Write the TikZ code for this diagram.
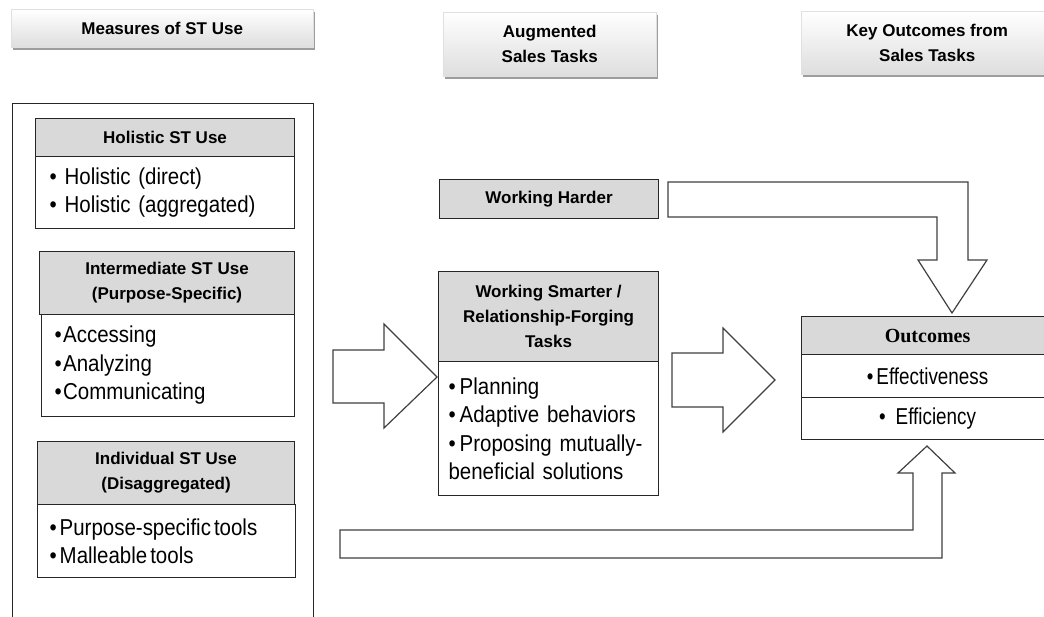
\documentclass[tikz,border=0pt]{standalone}
\usepackage{fontspec}
\setmainfont{Liberation Sans}
\newfontfamily\condfont[FakeStretch=0.89]{Liberation Sans}
\newfontfamily\ocondfont[FakeStretch=0.82]{Liberation Sans}
\newfontfamily\serifb{Liberation Serif}
\usetikzlibrary{shadows}
\tikzset{
  toph/.style={draw=black!12, top color=white, bottom color=black!13, anchor=north west,
    inner sep=0pt, align=center, font=\fontsize{17}{25}\selectfont\bfseries,
    drop shadow={shadow xshift=1.5pt, shadow yshift=-3pt, opacity=0.55, fill=black!70}},
  hdr/.style={draw=black!85, fill=black!15, line width=1.1pt, anchor=north west,
    inner sep=0pt, align=center, font=\fontsize{17}{25}\selectfont\bfseries},
  body/.style={draw=black!85, fill=white, line width=1.1pt, anchor=north west,
    inner ysep=0pt, align=left, font=\condfont\fontsize{23}{28.5}\selectfont},
  obody/.style={draw=black!85, fill=white, line width=1.1pt, anchor=north west,
    inner sep=0pt, align=center, font=\ocondfont\fontsize{23}{28}\selectfont},
  frame/.style={draw=black!85, line width=1.1pt, anchor=north west, inner sep=0pt},
  blk/.style={draw=black!75, fill=white, line width=1.2pt, line join=miter}
}
\begin{document}
\begin{tikzpicture}[x=1pt,y=-1pt]
\useasboundingbox (0,0) rectangle (1044,617);

% top headers
\node[toph, minimum width=302pt, minimum height=38pt] (mst) at (11,9) {Measures of ST Use};
\node[toph, minimum width=213pt, minimum height=64pt] (aug) at (443,12) {Augmented\\Sales Tasks};
\node[toph, minimum width=252pt, minimum height=63pt] (key) at (801,11) {Key Outcomes from\\Sales Tasks};

% left frame
\node[frame, minimum width=301pt, minimum height=530pt] (meas) at (12,103) {};

% holistic
\node[hdr, minimum width=259pt, minimum height=38pt] (hol) at (35,118) {Holistic ST Use};
\node[body, minimum width=259pt, minimum height=72pt, text width=231pt, inner xsep=14pt] (holb) at (35,156)
  {\textbullet\hspace{8pt}Holistic (direct)\\\textbullet\hspace{8pt}Holistic (aggregated)};

% intermediate
\node[hdr, minimum width=255pt, minimum height=63pt] (int) at (39,251) {Intermediate ST Use\\(Purpose-Specific)};
\node[body, minimum width=253pt, minimum height=102pt, text width=227pt, inner xsep=13pt] (intb) at (41,314)
  {\textbullet\hspace{1.5pt}Accessing\\\textbullet\hspace{1.5pt}Analyzing\\\textbullet\hspace{1.5pt}Communicating};

% individual
\node[hdr, minimum width=257pt, minimum height=63pt] (ind) at (37,441) {Individual ST Use\\(Disaggregated)};
\node[body, minimum width=258pt, minimum height=73pt, text width=234pt, inner xsep=12pt] (indb) at (37,504)
  {\textbullet\hspace{3pt}Purpose-specific\hspace{3pt}tools\\\textbullet\hspace{3pt}Malleable\hspace{3pt}tools};

% working harder / smarter
\node[hdr, minimum width=219pt, minimum height=39pt] (wh) at (439,179) {Working Harder};
\node[hdr, minimum width=220pt, minimum height=90pt] (ws) at (438,271) {Working Smarter /\\Relationship-Forging\\Tasks};
\node[body, minimum width=220pt, minimum height=134pt, text width=200pt, inner xsep=10pt] (wsb) at (438,361)
  {\textbullet\hspace{4pt}Planning\\\textbullet\hspace{4pt}Adaptive behaviors\\\textbullet\hspace{4pt}Proposing mutually-\\beneficial solutions};

% outcomes
\node[hdr, minimum width=252pt, minimum height=38pt, font=\serifb\fontsize{20}{24}\selectfont\bfseries] (out) at (801,316) {Outcomes};
\node[obody, minimum width=252pt, minimum height=43pt] (eff) at (801,354) {\textbullet\hspace{3pt}Effectiveness};
\node[obody, minimum width=252pt, minimum height=42pt] (effi) at (801,397) {\textbullet\hspace{10pt}Efficiency};

% block arrows
\draw[blk] (333,350) -- (384,350) -- (384,324) -- (437,377) -- (384,428) -- (384,403) -- (333,403) -- cycle;
\draw[blk] (672,353) -- (723,353) -- (723,328) -- (775,380) -- (723,432) -- (723,407) -- (672,407) -- cycle;
\draw[blk] (668,182) -- (968,182) -- (968,260) -- (987,260) -- (952,313) -- (918,260) -- (937,260)
  -- (937,217) -- (668,217) -- cycle;
\draw[blk] (340,530) -- (913,530) -- (913,473) -- (898,473) -- (927,446) -- (955,473) -- (942,473)
  -- (942,558) -- (340,558) -- cycle;
\end{tikzpicture}
\end{document}
